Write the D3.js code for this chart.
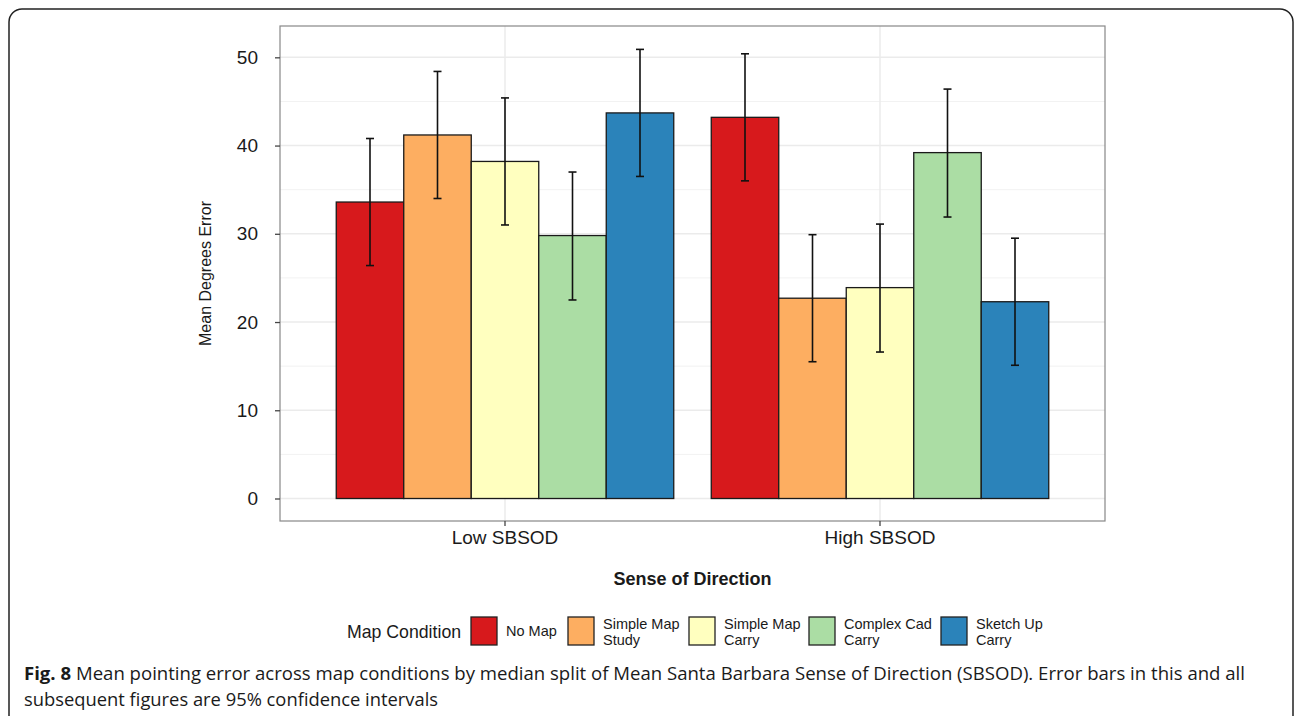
<!DOCTYPE html>
<html>
<head>
<meta charset="utf-8">
<script src="https://cdn.jsdelivr.net/npm/d3@7"></script>
<style>
  body { margin: 0; background: #fff; }
  svg { display: block; font-family: "Liberation Sans", Arial, sans-serif; }
</style>
</head>
<body>
<div id="chart"></div>
<script>
const width = 1298;
const height = 716;

// data
const groups = ["Low SBSOD", "High SBSOD"];
const conditions = ["No Map", "Simple Map\nStudy", "Simple Map\nCarry", "Complex Cad\nCarry", "Sketch Up\nCarry"];
const colors = ["#d7191c", "#fdae61", "#ffffbf", "#abdda4", "#2b83ba"];
const lowMeans = [33.6, 41.2, 38.2, 29.8, 43.7];
const lowLower = [26.4, 34.0, 31.0, 22.5, 36.5];
const lowUpper = [40.8, 48.4, 45.4, 37.0, 50.9];
const highMeans = [43.2, 22.7, 23.9, 39.2, 22.3];
const highLower = [36.0, 15.5, 16.6, 31.9, 15.1];
const highUpper = [50.4, 29.9, 31.1, 46.4, 29.5];
const yTicks = [0, 10, 20, 30, 40, 50];
const yMinor = [5, 15, 25, 35, 45];

const rows = [];
groups.forEach((g, gi) => {
  const m = gi === 0 ? lowMeans : highMeans;
  const lo = gi === 0 ? lowLower : highLower;
  const hi = gi === 0 ? lowUpper : highUpper;
  conditions.forEach((c, ci) => rows.push({group: g, cond: c, ci, mean: m[ci], lo: lo[ci], hi: hi[ci]}));
});

const svg = d3.select("#chart").append("svg")
  .attr("width", width)
  .attr("height", height);

// outer frame
svg.append("rect")
  .attr("x", 9).attr("y", 9)
  .attr("width", 1284).attr("height", 740)
  .attr("rx", 13)
  .attr("fill", "none")
  .attr("stroke", "#222")
  .attr("stroke-width", 1.5);

const panel = {left: 280, right: 1105, top: 26, bottom: 521};

const y = d3.scaleLinear().domain([-2.55, 53.55]).range([panel.bottom, panel.top]);
// ggplot-style discrete expansion: centers at 0.6 and 1.6 of 2.2 units
const unit = (panel.right - panel.left) / 2.2;
const xc = g => panel.left + (0.6 + groups.indexOf(g)) * unit;
const xInner = d3.scaleBand().domain(d3.range(conditions.length)).range([0, 0.9 * unit]);

const g = svg.append("g");

// grid
g.selectAll(".minor").data(yMinor).join("line")
  .attr("x1", panel.left).attr("x2", panel.right)
  .attr("y1", d => y(d)).attr("y2", d => y(d))
  .attr("stroke", "#f2f2f2").attr("stroke-width", 1);
g.selectAll(".major").data(yTicks).join("line")
  .attr("x1", panel.left).attr("x2", panel.right)
  .attr("y1", d => y(d)).attr("y2", d => y(d))
  .attr("stroke", "#ebebeb").attr("stroke-width", 1.5);
g.selectAll(".vmajor").data(groups).join("line")
  .attr("x1", d => xc(d)).attr("x2", d => xc(d))
  .attr("y1", panel.top).attr("y2", panel.bottom)
  .attr("stroke", "#ebebeb").attr("stroke-width", 1.5);

// bars
g.selectAll(".bar").data(rows).join("rect")
  .attr("x", d => xc(d.group) - 0.45 * unit + xInner(d.ci))
  .attr("y", d => y(d.mean))
  .attr("width", xInner.bandwidth())
  .attr("height", d => y(0) - y(d.mean))
  .attr("fill", d => colors[d.ci])
  .attr("stroke", "#1a1a1a")
  .attr("stroke-width", 1.3);

// error bars
const eb = g.selectAll(".eb").data(rows).join("g")
  .attr("transform", d => `translate(${xc(d.group) - 0.45 * unit + xInner(d.ci) + xInner.bandwidth() / 2},0)`)
  .attr("stroke", "#111").attr("stroke-width", 1.6);
eb.append("line").attr("y1", d => y(d.lo)).attr("y2", d => y(d.hi));
eb.append("line").attr("x1", -4).attr("x2", 4).attr("y1", d => y(d.lo)).attr("y2", d => y(d.lo));
eb.append("line").attr("x1", -4).attr("x2", 4).attr("y1", d => y(d.hi)).attr("y2", d => y(d.hi));

// panel border
svg.append("rect")
  .attr("x", panel.left).attr("y", panel.top)
  .attr("width", panel.right - panel.left).attr("height", panel.bottom - panel.top)
  .attr("fill", "none").attr("stroke", "#888").attr("stroke-width", 1.2);

// y axis
const yAxis = svg.append("g")
  .attr("transform", `translate(${panel.left},0)`)
  .call(d3.axisLeft(y).tickValues(yTicks).tickSize(5).tickPadding(17));
yAxis.select(".domain").remove();
yAxis.selectAll("line").attr("stroke", "#444").attr("stroke-width", 1.3);
yAxis.selectAll("text").attr("font-size", 19).attr("fill", "#1a1a1a")
  .attr("font-family", "Liberation Sans, Arial, sans-serif");

// x axis
const xAxisG = svg.append("g").attr("transform", `translate(0,${panel.bottom})`);
xAxisG.selectAll("line").data(groups).join("line")
  .attr("x1", d => xc(d)).attr("x2", d => xc(d))
  .attr("y1", 0).attr("y2", 5)
  .attr("stroke", "#444").attr("stroke-width", 1.3);
xAxisG.selectAll("text").data(groups).join("text")
  .attr("x", d => xc(d)).attr("y", 23)
  .attr("text-anchor", "middle")
  .attr("font-size", 19).attr("fill", "#1a1a1a")
  .text(d => d);

// titles
svg.append("text")
  .attr("transform", `translate(211,${(panel.top + panel.bottom) / 2}) rotate(-90)`)
  .attr("text-anchor", "middle")
  .attr("font-size", 16).attr("fill", "#1a1a1a")
  .text("Mean Degrees Error");
svg.append("text")
  .attr("x", (panel.left + panel.right) / 2).attr("y", 585)
  .attr("text-anchor", "middle")
  .attr("font-size", 18).attr("font-weight", "bold").attr("fill", "#1a1a1a")
  .text("Sense of Direction");

// legend
const legend = svg.append("g");
legend.append("text").attr("x", 347).attr("y", 638)
  .attr("font-size", 17.7).attr("fill", "#1a1a1a").text("Map Condition");
const keyX = [471, 568, 689, 809, 941];
conditions.forEach((c, i) => {
  legend.append("rect")
    .attr("x", keyX[i]).attr("y", 617).attr("width", 26).attr("height", 28)
    .attr("fill", colors[i]).attr("stroke", "#222").attr("stroke-width", 1.3);
  const lines = c.split("\n");
  const t = legend.append("text")
    .attr("x", keyX[i] + 35)
    .attr("font-size", 14.5).attr("fill", "#1a1a1a");
  lines.forEach((l, li) => {
    t.append("tspan").attr("x", keyX[i] + 35)
      .attr("y", lines.length === 1 ? 636 : 629 + li * 16)
      .text(l);
  });
});

// caption
const cap = svg.append("g")
  .attr("font-family", "'Liberation Sans Narrow', 'Open Sans', sans-serif")
  .attr("font-size", 18).attr("fill", "#1a1a1a");
const c1 = cap.append("text").attr("x", 24).attr("y", 680)
  .attr("textLength", 1221).attr("lengthAdjust", "spacingAndGlyphs");
c1.append("tspan").attr("font-weight", "bold").text("Fig. 8");
c1.append("tspan").text(" Mean pointing error across map conditions by median split of Mean Santa Barbara Sense of Direction (SBSOD). Error bars in this and all");
cap.append("text").attr("x", 24).attr("y", 706)
  .attr("textLength", 414).attr("lengthAdjust", "spacingAndGlyphs")
  .text("subsequent figures are 95% confidence intervals");
</script>
</body>
</html>
